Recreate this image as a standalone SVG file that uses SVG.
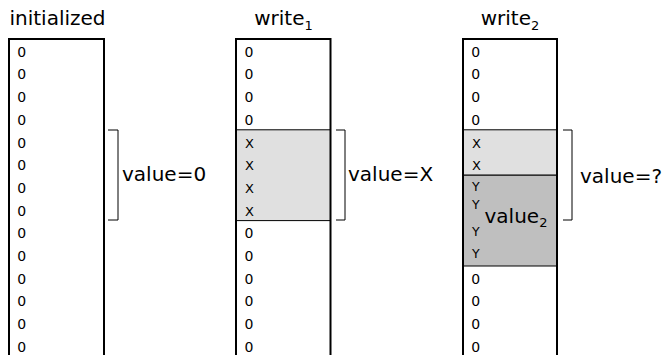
<svg xmlns="http://www.w3.org/2000/svg" width="664" height="355" viewBox="0 0 664 355">
<style>
text{font-family:"DejaVu Sans","Liberation Sans",sans-serif;fill:#000}
.t{font-size:20px}
.v{font-size:20px}
.c{font-size:14px}
.x{font-size:13px}
.y{font-size:12.5px}
.box{fill:none;stroke:#000;stroke-width:2}
.l1{fill:#e0e0e0;stroke:#000;stroke-width:1}
.l2{fill:#bfbfbf;stroke:#000;stroke-width:1}
.br{fill:none;stroke:#000;stroke-width:1}
</style>
<g id="initialized">
<text class="t" x="57.5" y="25" text-anchor="middle">initialized</text>
<rect class="box" x="9" y="39" width="95" height="340"/>
<g class="c">
<text x="17.3" y="56.7">0</text><text x="17.3" y="79.4">0</text><text x="17.3" y="102.1">0</text><text x="17.3" y="124.8">0</text>
<text x="17.3" y="147.5">0</text><text x="17.3" y="170.2">0</text><text x="17.3" y="192.9">0</text><text x="17.3" y="215.6">0</text>
<text x="17.3" y="238.3">0</text><text x="17.3" y="261">0</text><text x="17.3" y="283.7">0</text><text x="17.3" y="306.4">0</text>
<text x="17.3" y="329.1">0</text><text x="17.3" y="351.8">0</text>
</g>
</g>
<g id="write1">
<text class="t" x="283.5" y="25" text-anchor="middle">write<tspan font-size="13" dy="5">1</tspan></text>
<rect class="l1" x="236" y="129.8" width="94.5" height="90.8"/>
<rect class="box" x="236" y="39" width="94.5" height="340"/>
<g class="c">
<text x="244.5" y="56.7">0</text><text x="244.5" y="79.4">0</text><text x="244.5" y="102.1">0</text><text x="244.5" y="124.8">0</text>
<text x="244.5" y="238.3">0</text><text x="244.5" y="261">0</text><text x="244.5" y="283.7">0</text><text x="244.5" y="306.4">0</text>
<text x="244.5" y="329.1">0</text><text x="244.5" y="351.8">0</text>
</g>
<g class="x">
<text x="245" y="147.5">X</text><text x="245" y="170.2">X</text><text x="245" y="192.9">X</text><text x="245" y="215.6">X</text>
</g>
</g>
<g id="write2">
<text class="t" x="510" y="25" text-anchor="middle">write<tspan font-size="13" dy="5">2</tspan></text>
<rect class="l1" x="463" y="129.8" width="94" height="45.4"/>
<rect class="l2" x="463" y="175.2" width="94" height="90.8"/>
<rect class="box" x="463" y="39" width="94" height="340"/>
<g class="c">
<text x="471.3" y="56.7">0</text><text x="471.3" y="79.4">0</text><text x="471.3" y="102.1">0</text><text x="471.3" y="124.8">0</text>
<text x="471.3" y="283.7">0</text><text x="471.3" y="306.4">0</text>
<text x="471.3" y="329.1">0</text><text x="471.3" y="351.8">0</text>
</g>
<g class="x">
<text x="472" y="147.5">X</text><text x="472" y="170.2">X</text>
</g>
<g class="y">
<text x="472" y="190.5">Y</text><text x="472" y="209">Y</text><text x="472" y="236">Y</text><text x="472" y="258">Y</text>
</g>
<text class="v" x="484.5" y="223.3">value<tspan font-size="13" dy="3.5">2</tspan></text>
</g>
<g id="connectors">
<path class="br" d="M108,130H118V220H108"/>
<path class="br" d="M336,130H345V220H336"/>
<path class="br" d="M563,130H572V220H563"/>
</g>
<g id="labels">
<text class="v" x="122" y="181">value=0</text>
<text class="v" x="348" y="181">value=X</text>
<text class="v" x="580" y="183">value=?</text>
</g>
</svg>
